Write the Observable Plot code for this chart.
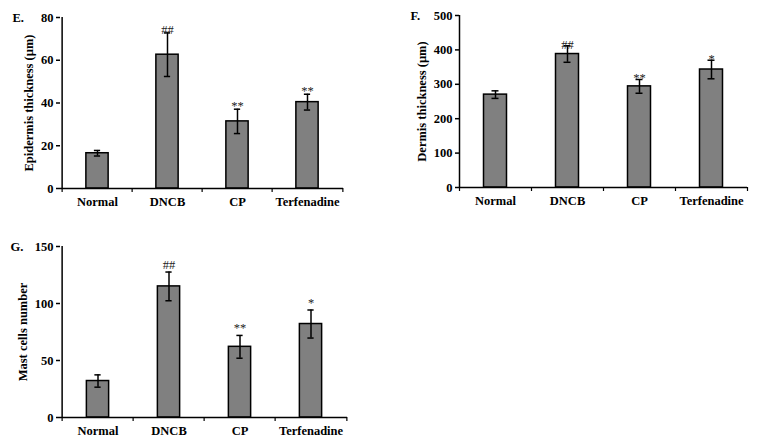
<!DOCTYPE html>
<html>
<head>
<meta charset="utf-8">
<script src="https://cdn.jsdelivr.net/npm/d3@7"></script>
<script src="https://cdn.jsdelivr.net/npm/@observablehq/plot@0.6"></script>
<style>
  html, body { margin: 0; padding: 0; background: #fff; }
  #wrap { position: relative; width: 758px; height: 445px; overflow: hidden; }
  #wrap svg { position: absolute; }
</style>
</head>
<body>
<div id="wrap"></div>
<script>
const groups = ["Normal", "DNCB", "CP", "Terfenadine"];

const epidermis = [16.5, 62.6, 31.4, 40.4];
const epidermisErr = [1.3, 10.2, 5.7, 3.7];
const epidermisSig = ["", "##", "**", "**"];
const epidermisTicks = [0, 20, 40, 60, 80];

const dermis = [270, 388, 294, 343];
const dermisErr = [11, 24, 20, 27];
const dermisSig = ["", "##", "**", "*"];
const dermisTicks = [0, 100, 200, 300, 400, 500];

const mast = [32, 115, 62, 82];
const mastErr = [5.4, 12.6, 10, 12.3];
const mastSig = ["", "##", "**", "*"];
const mastTicks = [0, 50, 100, 150];

const FONT = "'Liberation Serif', 'Times New Roman', Times, serif";

function panel({letter, label, values, errs, sigs, ticks, left, top, width, height,
                ml, mr, mt, mb, labelDx, letterX, sigDy}) {
  const data = groups.map((g, i) => ({g, v: values[i], e: errs[i], s: sigs[i]}));
  const step = (width - ml - mr) / groups.length;
  const barInset = (step - 23) / 2;
  const capInset = (step - 7) / 2;
  const yMax = ticks[ticks.length - 1];
  const svg = Plot.plot({
    width, height,
    marginLeft: ml, marginRight: mr, marginTop: mt, marginBottom: mb,
    style: {fontFamily: FONT, fontSize: "12px", fontWeight: "bold", color: "#000", background: "#fff", overflow: "visible"},
    x: {type: "band", domain: groups, padding: 0, axis: null},
    y: {domain: [0, yMax], axis: null},
    marks: [
      Plot.barY(data, {x: "g", y: "v", fill: "#808080", stroke: "#000", strokeWidth: 1.5,
                       insetLeft: barInset, insetRight: barInset}),
      Plot.ruleX(data, {x: "g", y1: d => d.v - d.e, y2: d => d.v + d.e, stroke: "#000", strokeWidth: 1.5}),
      Plot.tickY(data, {x: "g", y: d => d.v + d.e, stroke: "#000", strokeWidth: 1.5, insetLeft: capInset, insetRight: capInset}),
      Plot.tickY(data, {x: "g", y: d => d.v - d.e, stroke: "#000", strokeWidth: 1.5, insetLeft: capInset, insetRight: capInset}),
      Plot.text(data, {x: "g", y: d => d.v + d.e, text: "s", lineAnchor: "bottom", dy: sigDy,
                       fontWeight: "normal", fontSize: 12.5, fill: "#222"}),
      // axis lines
      Plot.ruleY([0], {stroke: "#000", strokeWidth: 1.5}),
      Plot.ruleX([groups[0]], {y1: 0, y2: yMax, dx: -step / 2, stroke: "#000", strokeWidth: 1.5}),
      // x boundary ticks
      Plot.ruleX(groups, {x: d => d, y1: 0, y2: 0, insetBottom: -4, dx: -step / 2, stroke: "#000", strokeWidth: 1.2}),
      Plot.ruleX([groups[groups.length - 1]], {y1: 0, y2: 0, insetBottom: -4, dx: step / 2, stroke: "#000", strokeWidth: 1.2}),
      Plot.axisX({domain: groups, tickSize: 0, tickPadding: 9, fontSize: 12.5, fontWeight: "bold", label: null}),
      Plot.axisY({ticks, tickSize: 4, tickPadding: 3, strokeWidth: 1.5, fontSize: 12.5, fontWeight: "bold", label: null, tickFormat: d => String(d)}),
      Plot.text([label], {frameAnchor: "left", rotate: -90, dx: labelDx, textAnchor: "middle", lineAnchor: "middle",
                          fontSize: 12.5, fontWeight: "bold"}),
      Plot.text([letter], {frameAnchor: "top-left", dx: letterX - ml, textAnchor: "start", lineAnchor: "middle",
                           fontSize: 12.5, fontWeight: "bold"})
    ]
  });
  svg.style.left = left + "px";
  svg.style.top = top + "px";
  document.getElementById("wrap").appendChild(svg);
}

panel({letter: "E.", label: "Epidermis thickness (µm)", values: epidermis, errs: epidermisErr, sigs: epidermisSig,
       ticks: epidermisTicks, left: 0, top: 0, width: 380, height: 220, ml: 60, mr: 37, mt: 17, mb: 32,
       labelDx: -32, letterX: 12, sigDy: 1});
panel({letter: "F.", label: "Dermis thickness (µm)", values: dermis, errs: dermisErr, sigs: dermisSig,
       ticks: dermisTicks, left: 380, top: 0, width: 378, height: 220, ml: 79, mr: 11, mt: 15, mb: 33,
       labelDx: -38, letterX: 30, sigDy: 3});
panel({letter: "G.", label: "Mast cells number", values: mast, errs: mastErr, sigs: mastSig,
       ticks: mastTicks, left: 0, top: 220, width: 380, height: 225, ml: 60, mr: 33, mt: 26, mb: 28,
       labelDx: -38, letterX: 10, sigDy: -3});
</script>
</body>
</html>
